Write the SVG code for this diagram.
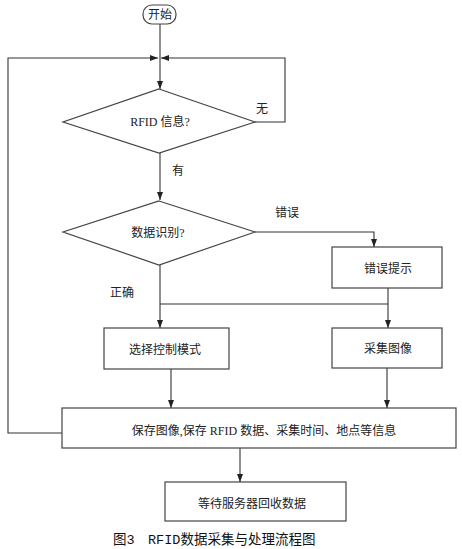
<svg xmlns="http://www.w3.org/2000/svg" width="462" height="549" viewBox="0 0 462 549">
<style>
.n{fill:#fff;stroke:#444;stroke-width:1.2}
.c{fill:none;stroke:#333;stroke-width:1.1}
.t{font-family:"Liberation Serif","Noto Sans CJK SC",serif;font-size:12px;fill:#222;text-anchor:middle;dominant-baseline:central}
.cap{font-family:"Liberation Mono","Noto Sans CJK SC",monospace;font-size:13.5px;fill:#111;dominant-baseline:central}
</style>
<defs>
<marker id="a" markerUnits="userSpaceOnUse" markerWidth="8" markerHeight="6" refX="8" refY="3" orient="auto">
<path d="M0,0 L8,3 L0,6 Z" fill="#222"/>
</marker>
</defs>
<rect width="462" height="549" fill="#fff"/>
<g id="connectors">
<path class="c" d="M160,24 V89" marker-end="url(#a)"/>
<path class="c" d="M62,433 H8 V58 H158" marker-end="url(#a)"/>
<path class="c" d="M255,122 H285 V58 H161" marker-end="url(#a)"/>
<path class="c" d="M160,153 V200" marker-end="url(#a)"/>
<path class="c" d="M255,232 H374 V247" marker-end="url(#a)"/>
<path class="c" d="M160,265 V328" marker-end="url(#a)"/>
<path class="c" d="M388,288 V328" marker-end="url(#a)"/>
<path class="c" d="M160,304 H388"/>
<path class="c" d="M171,369 V408" marker-end="url(#a)"/>
<path class="c" d="M387,368 V408" marker-end="url(#a)"/>
<path class="c" d="M240,448 V482" marker-end="url(#a)"/>
<text class="t" x="262" y="109">无</text>
<text class="t" x="178" y="171">有</text>
<text class="t" x="287" y="213">错误</text>
<text class="t" x="122" y="293">正确</text>
</g>
<g id="start">
<rect class="n" x="143" y="5" width="33" height="19" rx="9"/>
<text class="t" x="160" y="15">开始</text>
</g>
<g id="rfid">
<polygon class="n" points="159,89 255,122 159,153 63,122"/>
<text class="t" x="160" y="122">RFID 信息?</text>
</g>
<g id="recog">
<polygon class="n" points="159,201 255,232 159,265 63,232"/>
<text class="t" x="158" y="233">数据识别?</text>
</g>
<g id="error">
<rect class="n" x="332" y="247" width="110" height="41"/>
<text class="t" x="388" y="269">错误提示</text>
</g>
<g id="mode">
<rect class="n" x="104" y="328" width="125" height="41"/>
<text class="t" x="165" y="350">选择控制模式</text>
</g>
<g id="capture">
<rect class="n" x="332" y="328" width="110" height="40"/>
<text class="t" x="388" y="349">采集图像</text>
</g>
<g id="save">
<rect class="n" x="62" y="408" width="394" height="40"/>
<text class="t" x="264" y="431">保存图像,保存 RFID 数据、采集时间、地点等信息</text>
</g>
<g id="wait">
<rect class="n" x="165" y="482" width="181" height="39"/>
<text class="t" x="252" y="504">等待服务器回收数据</text>
</g>
<text class="cap" x="113" y="540">图3</text>
<text class="cap" x="148" y="540">RFID数据采集与处理流程图</text>
</svg>
